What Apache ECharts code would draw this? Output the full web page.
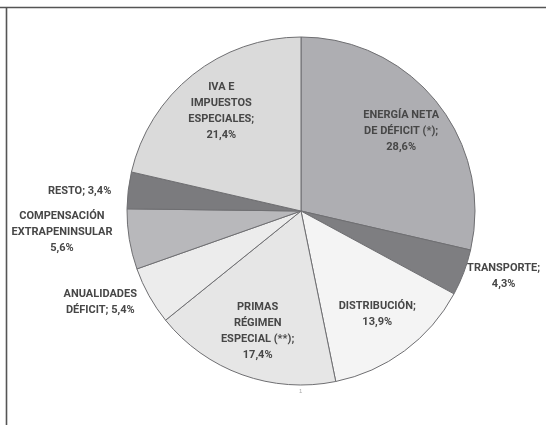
<!DOCTYPE html>
<html>
<head>
<meta charset="utf-8">
<script src="https://cdn.jsdelivr.net/npm/echarts@6/dist/echarts.min.js"></script>
<style>
html,body{margin:0;padding:0;background:#fff;}
#chart{width:546px;height:425px;}
</style>
</head>
<body>
<div id="chart"></div>
<script>
// ---- data ----
var categories = [
  'ENERGÍA NETA\nDE DÉFICIT (*);',
  'TRANSPORTE;',
  'DISTRIBUCIÓN;',
  'PRIMAS\nRÉGIMEN\nESPECIAL (**);',
  'ANUALIDADES\nDÉFICIT;',
  'COMPENSACIÓN\nEXTRAPENINSULAR',
  'RESTO;',
  'IVA E\nIMPUESTOS\nESPECIALES;'
];
var values = [28.6, 4.3, 13.9, 17.4, 5.4, 5.6, 3.4, 21.4];

// ---- styles ----
var valueSeparators = ['\n', '\n', '\n', '\n', ' ', '\n', ' ', '\n'];
var sliceColors = ['#aeaeb2', '#7e7e81', '#f4f4f4', '#e6e6e6', '#ececec', '#b8b8bb', '#7b7b7e', '#dadada'];
var labelPlacement = ['in', 'out', 'in', 'in', 'out', 'out', 'out', 'in'];
var outerLabelShift = [[0,0], [-6,-14], [0,0], [0,0], [-6,-17], [-19,-15], [0,7], [0,0]];

function fmt(v) { return v.toFixed(1).replace('.', ','); }

function buildData(which) {
  return categories.map(function (c, i) {
    var show = (which === 'main') ? false : labelPlacement[i] === which;
    return {
      name: c,
      value: values[i],
      itemStyle: which === 'main'
        ? { color: sliceColors[i], borderColor: '#6f6f72', borderWidth: 1 }
        : { color: 'rgba(0,0,0,0)', borderWidth: 0 },
      label: { show: show }
    };
  });
}

var labelStyle = {
  position: 'inside',
  rotate: 0,
  overflow: 'none',
  fontFamily: 'Roboto',
  fontWeight: 'bold',
  fontSize: 11,
  lineHeight: 16,
  color: '#474747',
  align: 'center',
  formatter: function (p) {
    return p.name + valueSeparators[p.dataIndex] + fmt(p.value) + '%';
  }
};

var chart = echarts.init(document.getElementById('chart'), null, { renderer: 'canvas' });
chart.setOption({
  animation: false,
  backgroundColor: '#ffffff',
  graphic: [
    { type: 'line', shape: { x1: 0, y1: 7.5, x2: 546, y2: 7.5 }, style: { stroke: '#555', lineWidth: 1.6 } },
    { type: 'line', shape: { x1: 6.5, y1: 7, x2: 6.5, y2: 425 }, style: { stroke: '#555', lineWidth: 1.6 } },
    { type: 'text', x: 299, y: 388, style: { text: '1', fontSize: 6, fill: '#aaa', fontFamily: 'Liberation Sans' } }
  ],
  series: [
    {
      type: 'pie',
      center: [301, 211],
      radius: 174,
      startAngle: 90,
      clockwise: true,
      silent: true,
      label: { show: false },
      labelLine: { show: false },
      data: buildData('main')
    },
    {
      type: 'pie',
      center: [301, 211],
      radius: [76, 174],
      startAngle: 90,
      clockwise: true,
      silent: true,
      avoidLabelOverlap: false,
      label: labelStyle,
      labelLine: { show: false },
      data: buildData('in')
    },
    {
      type: 'pie',
      center: [301, 211],
      radius: [200, 240],
      startAngle: 90,
      clockwise: true,
      silent: true,
      avoidLabelOverlap: false,
      label: labelStyle,
      labelLine: { show: false },
      labelLayout: function (p) {
        var s = outerLabelShift[p.dataIndex];
        return { dx: s[0], dy: s[1] };
      },
      data: buildData('out')
    }
  ]
});
</script>
</body>
</html>
